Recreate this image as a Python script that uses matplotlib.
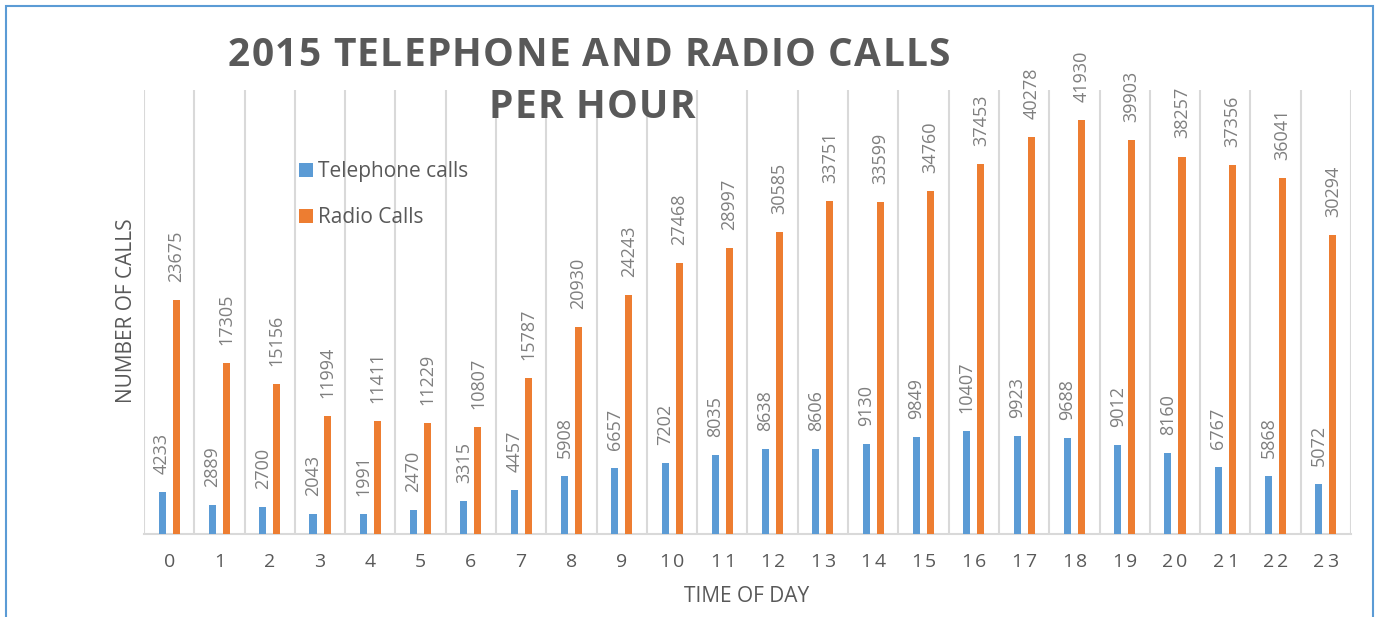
import matplotlib
matplotlib.use("Agg")
import matplotlib.pyplot as plt
from matplotlib.patches import Rectangle
from matplotlib.font_manager import FontProperties
import numpy as np

hours = [str(h) for h in range(24)]
telephone = [4233, 2889, 2700, 2043, 1991, 2470, 3315, 4457, 5908, 6657, 7202, 8035,
             8638, 8606, 9130, 9849, 10407, 9923, 9688, 9012, 8160, 6767, 5868, 5072]
radio = [23675, 17305, 15156, 11994, 11411, 11229, 10807, 15787, 20930, 24243, 27468, 28997,
         30585, 33751, 33599, 34760, 37453, 40278, 41930, 39903, 38257, 37356, 36041, 30294]
series_names = ["Telephone calls", "Radio Calls"]
title_lines = ["2015 TELEPHONE AND RADIO CALLS", "PER HOUR"]

BLUE = "#5B9BD5"
ORANGE = "#ED7D31"
GRID = "#D9D9D9"
TXT = "#595959"
LBL = "#7F7F7F"

plt.rcParams['font.family'] = ['Open Sans', 'DejaVu Sans']

W, H = 1378, 617
fig = plt.figure(figsize=(W/100, H/100), dpi=100)
ax = fig.add_axes([144/W, 1-534/H, (1351-144)/W, (534-90)/H])
renderer = fig.canvas.get_renderer()


def text_w(s, fp):
    w, _, _ = renderer.get_text_width_height_descent(s, fp, ismath=False)
    return w


def advance(s, fp):
    return text_w(s + "H", fp) - text_w("H", fp)


def spaced_text(s, xc, ybase, fp, color, spacing):
    """Draw string s centred at pixel xc with baseline at pixel ybase (from top)."""
    scale = 72.0 / fig.dpi  # renderer widths are in pixels already
    total = advance(s[:-1], fp) + text_w(s[-1], fp) + spacing * (len(s) - 1)
    x0 = xc - total / 2
    for i, ch in enumerate(s):
        if ch == " ":
            continue
        xi = x0 + advance(s[:i], fp) + spacing * i
        fig.text(xi / W, 1 - ybase / H, ch, fontproperties=fp, color=color,
                 ha='left', va='baseline')
    return total


x = np.arange(len(hours))
bw = 0.14
b1 = ax.bar(x - bw, telephone, bw, color=BLUE, label=series_names[0], zorder=3)
b2 = ax.bar(x + bw, radio, bw, color=ORANGE, label=series_names[1], zorder=3)

for bars, vals in ((b1, telephone), (b2, radio)):
    for r, v in zip(bars, vals):
        ax.annotate(str(v), (r.get_x() + r.get_width()/2, r.get_height()),
                    xytext=(0, 13), textcoords='offset points', rotation=90,
                    ha='center', va='bottom', fontsize=13, color=LBL, zorder=4)

ax.set_xlim(-0.5, len(hours) - 0.5)
ax.set_ylim(0, 45000)
ax.set_yticks([])
ax.set_xticks(x)
ax.set_xticklabels([])
ax.tick_params(axis='x', length=0)
for xb in np.arange(-0.5, len(hours), 1.0):
    ax.axvline(xb, color=GRID, lw=1.5, zorder=1)
for s in ('top', 'right', 'left'):
    ax.spines[s].set_visible(False)
ax.spines['bottom'].set_color(GRID)
ax.spines['bottom'].set_linewidth(1.5)
ax.spines['bottom'].set_zorder(2)

# tick labels, slightly letter-spaced
fp_tick = FontProperties(family=['Open Sans', 'DejaVu Sans'], size=14)
for i, h in enumerate(hours):
    xc = ax.transData.transform((i, 0))[0]
    spaced_text(h, xc, 567, fp_tick, TXT, 3)

fig.text(747/W, 1-596/H, "TIME OF DAY", fontsize=15, color=TXT, ha='center', va='center')
fig.text(126/W, 1-311/H, "NUMBER OF CALLS", fontsize=15, color=TXT, ha='center',
         va='center', rotation=90)

# title, letter-spaced bold
fp_title = FontProperties(family=['Open Sans', 'DejaVu Sans'], size=28, weight='bold')
nat = advance(title_lines[0][:-1], fp_title) + text_w(title_lines[0][-1], fp_title)
sp = (722 - nat) / (len(title_lines[0]) - 1)
spaced_text(title_lines[0], 589, 66, fp_title, TXT, sp)
spaced_text(title_lines[1], 592, 118, fp_title, TXT, sp)

leg = ax.legend(loc='upper left', bbox_to_anchor=(299/W, 1-161/H),
                bbox_transform=fig.transFigure, frameon=False, fontsize=15,
                handlelength=0.67, handleheight=0.67, handletextpad=0.25,
                labelspacing=1.2, borderpad=0, borderaxespad=0)
for t in leg.get_texts():
    t.set_color(TXT)

fig.patches.append(Rectangle((6/W, -0.1), (1373-6)/W, 1.1 - 6/H, transform=fig.transFigure,
                             fill=False, edgecolor=BLUE, lw=1.5))

fig.savefig("out.png", dpi=100)
